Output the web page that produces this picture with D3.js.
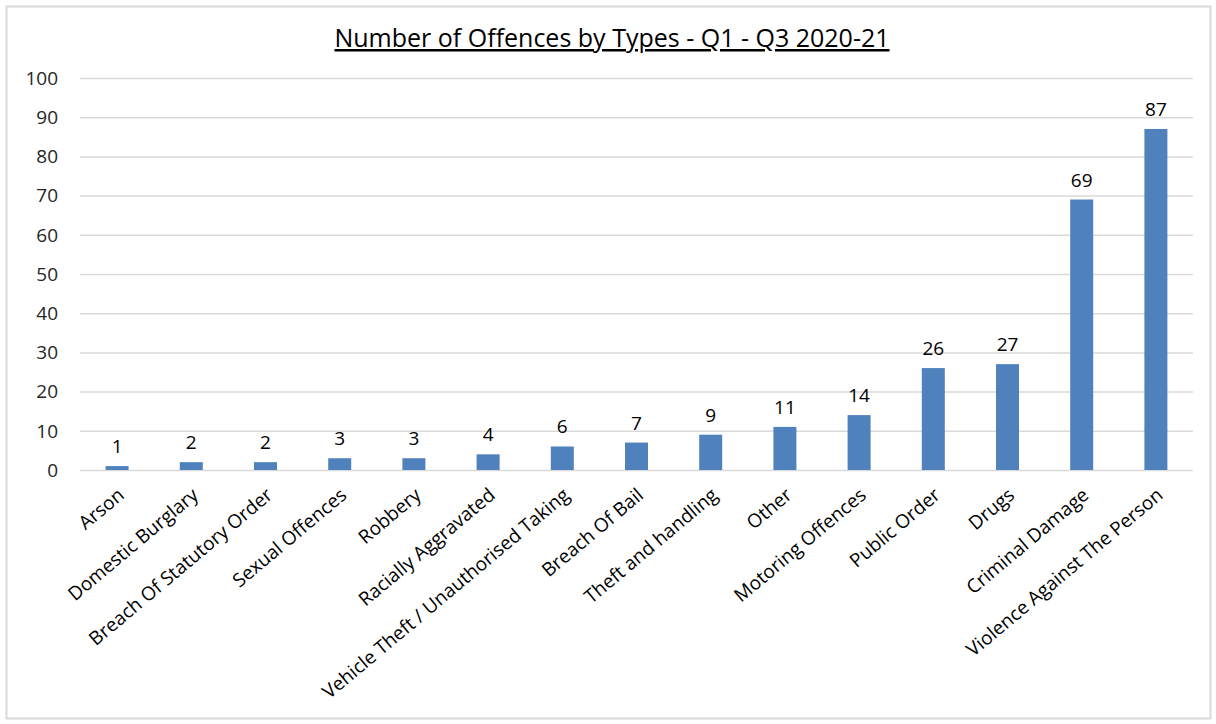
<!DOCTYPE html>
<html lang="en">
<head>
    <meta charset="UTF-8">
    <title>Number of Offences by Types - Q1 - Q3 2020-21</title>
    <script src="https://d3js.org/d3.v7.min.js"></script>
    <style>
        body { margin: 0; background: #fff; font-family: "Open Sans", Arial, sans-serif; }
        .grid line { stroke: #d9d9d9; stroke-width: 1.5; }
        .grid path { display: none; }
    </style>
</head>
<body>
    <div id="chart"></div>
    <script>
        // Data
        const categories = ["Arson", "Domestic Burglary", "Breach Of Statutory Order", "Sexual Offences",
            "Robbery", "Racially Aggravated", "Vehicle Theft / Unauthorised Taking", "Breach Of Bail",
            "Theft and handling", "Other", "Motoring Offences", "Public Order", "Drugs",
            "Criminal Damage", "Violence Against The Person"];
        const counts = [1, 2, 2, 3, 3, 4, 6, 7, 9, 11, 14, 26, 27, 69, 87];
        const yTicks = [0, 10, 20, 30, 40, 50, 60, 70, 80, 90, 100];

        const width = 1216, height = 724;
        const margin = { top: 78, right: 23, bottom: 254, left: 80 };
        const innerW = width - margin.left - margin.right;
        const innerH = height - margin.top - margin.bottom;

        const svg = d3.select("#chart").append("svg")
            .attr("width", width)
            .attr("height", height);

        // chart border
        svg.append("rect")
            .attr("x", 6.5).attr("y", 6.5)
            .attr("width", 1204).attr("height", 712)
            .attr("fill", "none")
            .attr("stroke", "#d9d9d9")
            .attr("stroke-width", 2);

        // title
        svg.append("text")
            .attr("x", 612)
            .attr("y", 47)
            .attr("text-anchor", "middle")
            .style("font-size", "25px")
            .style("text-decoration", "underline")
            .attr("fill", "#000")
            .text("Number of Offences by Types - Q1 - Q3 2020-21");

        const g = svg.append("g")
            .attr("transform", `translate(${margin.left},${margin.top})`);

        const x = d3.scaleBand()
            .domain(categories)
            .range([0, innerW])
            .paddingInner(0.69)
            .paddingOuter(0.345);

        const y = d3.scaleLinear()
            .domain([0, 100])
            .range([innerH, 0]);

        // gridlines
        g.append("g")
            .attr("class", "grid")
            .call(d3.axisLeft(y).tickValues(yTicks).tickSize(-innerW).tickFormat(""));

        // y tick labels
        g.append("g")
            .selectAll("text")
            .data(yTicks)
            .join("text")
            .attr("x", -22)
            .attr("y", d => y(d))
            .attr("dy", "0.36em")
            .attr("text-anchor", "end")
            .style("font-size", "19px")
            .attr("fill", "#262626")
            .text(d => d);

        // bars
        g.selectAll(".bar")
            .data(counts)
            .join("rect")
            .attr("class", "bar")
            .attr("x", (d, i) => x(categories[i]))
            .attr("width", x.bandwidth())
            .attr("y", d => y(d))
            .attr("height", d => innerH - y(d))
            .attr("fill", "#4f81bd");

        // value labels
        g.selectAll(".val")
            .data(counts)
            .join("text")
            .attr("class", "val")
            .attr("x", (d, i) => x(categories[i]) + x.bandwidth() / 2)
            .attr("y", d => y(d) - 13)
            .attr("text-anchor", "middle")
            .style("font-size", "19px")
            .attr("fill", "#000")
            .text(d => d);

        // category labels
        g.selectAll(".cat")
            .data(categories)
            .join("text")
            .attr("class", "cat")
            .attr("transform", d => `translate(${x(d) + x.bandwidth() / 2 + 4},${innerH + 22}) rotate(-40)`)
            .attr("text-anchor", "end")
            .attr("dy", "0.35em")
            .style("font-size", "19px")
            .attr("fill", "#000")
            .text(d => d);
    </script>
</body>
</html>
